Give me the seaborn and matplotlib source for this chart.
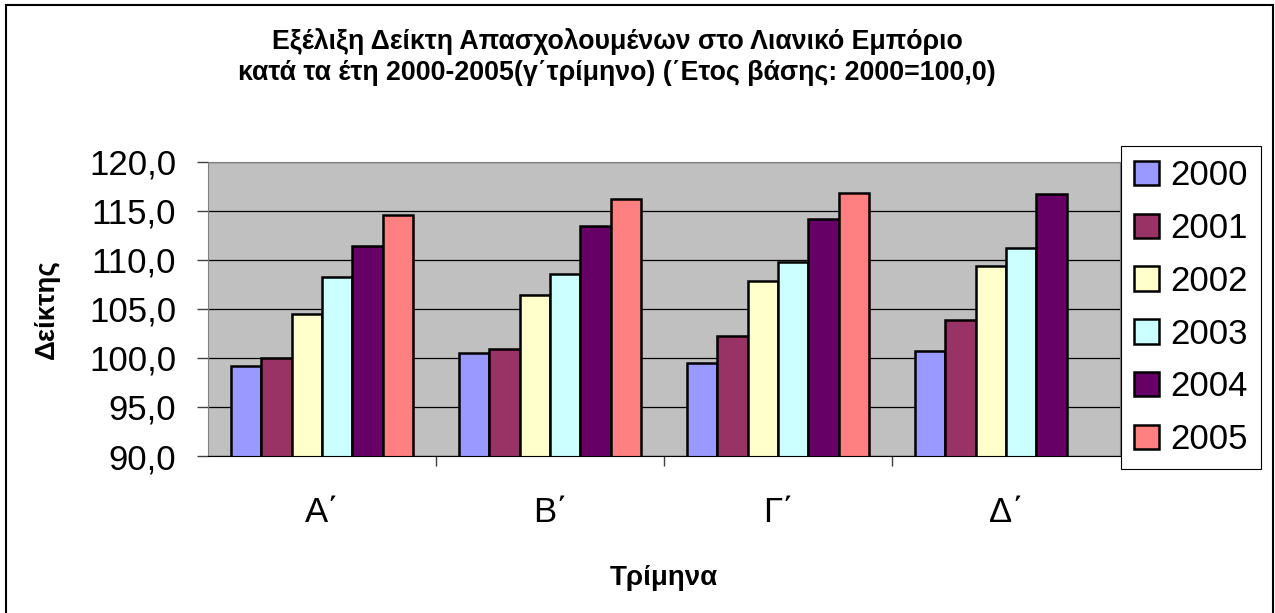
import matplotlib
matplotlib.use('Agg')
import matplotlib.pyplot as plt
import matplotlib.ticker as mticker
from matplotlib.patches import Rectangle
import numpy as np
import pandas as pd
import seaborn as sns

plt.rcParams['font.family'] = ['Liberation Sans', 'DejaVu Sans']

# Data
quarters = ['Α΄', 'Β΄', 'Γ΄', 'Δ΄']
years = ['2000', '2001', '2002', '2003', '2004', '2005']
v2000 = [99.2, 100.5, 99.5, 100.7]
v2001 = [100.0, 100.9, 102.2, 103.9]
v2002 = [104.5, 106.4, 107.8, 109.4]
v2003 = [108.2, 108.5, 109.8, 111.2]
v2004 = [111.4, 113.4, 114.1, 116.7]
v2005 = [114.6, 116.2, 116.8, np.nan]
colors = ['#9999FF', '#993366', '#FFFFCC', '#CCFFFF', '#660066', '#FF8080']

rows = []
for year, vals in zip(years, [v2000, v2001, v2002, v2003, v2004, v2005]):
    for q, v in zip(quarters, vals):
        rows.append({'Τρίμηνο': q, 'Έτος': year, 'Δείκτης': v})
df = pd.DataFrame(rows).dropna()

fig = plt.figure(figsize=(12.75, 6.13), dpi=100)
ax = fig.add_axes([208/1275, 1-456/613, 912/1275, 294.5/613])
ax.set_facecolor('#C0C0C0')

sns.barplot(data=df, x='Τρίμηνο', y='Δείκτης', hue='Έτος', order=quarters,
            hue_order=years, palette=colors, saturation=1, edgecolor='black',
            linewidth=1.8, errorbar=None, width=0.8, ax=ax)

ax.set_ylim(90, 120)
ax.set_xlim(-0.5, 3.5)
ax.yaxis.set_major_locator(mticker.MultipleLocator(5))
ax.yaxis.set_major_formatter(mticker.FuncFormatter(lambda v, p: f'{v:.1f}'.replace('.', ',')))
ax.set_axisbelow(True)
ax.grid(axis='y', color='black', linewidth=0.9)
ax.grid(axis='x', visible=False)

ax.tick_params(axis='y', labelsize=25, length=8, width=1, color='#404040', pad=15)
ax.tick_params(axis='x', which='major', labelsize=25, length=0, pad=29)
ax.set_xticks([0.5, 1.5, 2.5], minor=True)
ax.tick_params(axis='x', which='minor', length=7, width=1, color='#404040')

for s in ['left', 'top', 'right']:
    ax.spines[s].set_color('#808080')
ax.spines['bottom'].set_color('black')

ax.set_ylabel('Δείκτης', fontsize=20, fontweight='bold')
ax.set_xlabel('Τρίμηνα', fontsize=20, fontweight='bold')
ax.yaxis.set_label_coords(-0.162, 0.5)
ax.xaxis.set_label_coords(0.5, -0.37)

# Legend
handles, labels = ax.get_legend_handles_labels()
ax.legend_.remove()
leg = fig.legend(handles, labels, loc='upper left', bbox_to_anchor=(1121/1275, 1-146/613),
                 fontsize=25, frameon=True, fancybox=False, framealpha=1,
                 edgecolor='black', borderpad=0.38, labelspacing=0.57,
                 handlelength=0.7, handleheight=0.7, handletextpad=0.35,
                 borderaxespad=0)
leg.get_frame().set_linewidth(0.8)

# Title
fig.text(617/1275, 1-57/613,
         'Εξέλιξη Δείκτη Απασχολουμένων στο Λιανικό Εμπόριο\n'
         'κατά τα έτη 2000-2005(γ΄τρίμηνο) (΄Ετος βάσης: 2000=100,0)',
         ha='center', va='center', fontsize=19.3, fontweight='bold', linespacing=1.22)

# Chart border
fig.patches.append(Rectangle((6/1275, -0.01), 1267/1275, 1.01-5/613,
                             transform=fig.transFigure, fill=False,
                             edgecolor='black', linewidth=1.5))

plt.savefig('out.png', dpi=100)
